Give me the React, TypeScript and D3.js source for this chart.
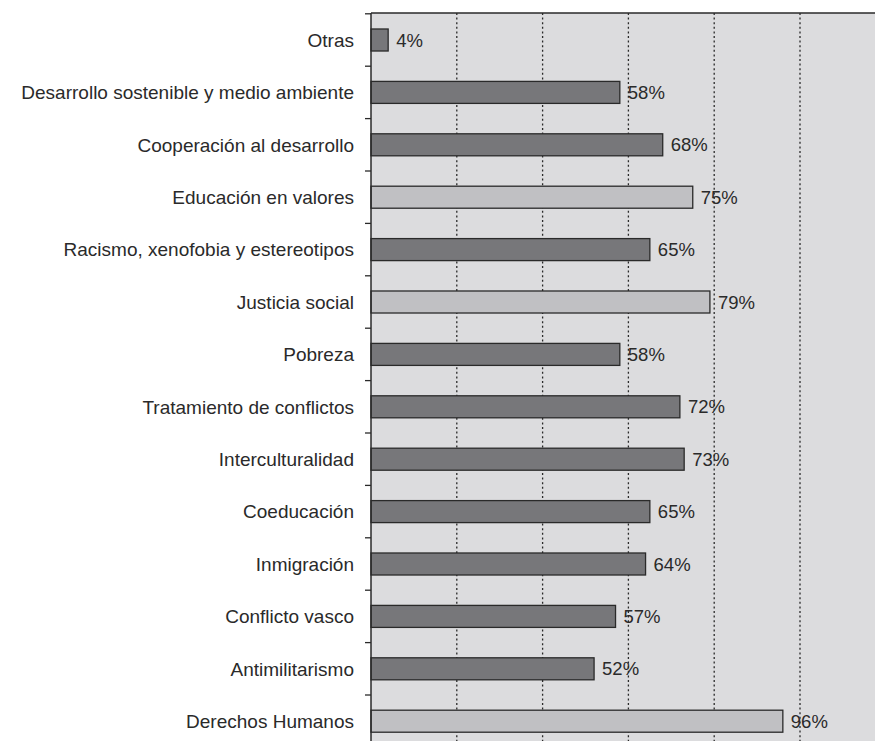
import React from "react";
import * as d3 from "d3";

const categories = [
  "Otras",
  "Desarrollo sostenible y medio ambiente",
  "Cooperación al desarrollo",
  "Educación en valores",
  "Racismo, xenofobia y estereotipos",
  "Justicia social",
  "Pobreza",
  "Tratamiento de conflictos",
  "Interculturalidad",
  "Coeducación",
  "Inmigración",
  "Conflicto vasco",
  "Antimilitarismo",
  "Derechos Humanos",
];
const values = [4, 58, 68, 75, 65, 79, 58, 72, 73, 65, 64, 57, 52, 96];
const highlighted = [false, false, false, true, false, true, false, false, false, false, false, false, false, true];
const gridTicks = [20, 40, 60, 80, 100];

const W = 875;
const H = 741;
const left = 371;
const top = 13.8;
const step = 52.4;
const font = "'Liberation Sans', Arial, Helvetica, sans-serif";

export default function App() {
  const x = d3.scaleLinear().domain([0, 100]).range([left, 800]);
  const y = d3
    .scaleBand<string>()
    .domain(categories)
    .range([top, top + step * categories.length])
    .paddingInner(0.58)
    .paddingOuter(0.29);
  const boundaries = d3.range(categories.length + 1).map((i) => top + i * y.step());

  return (
    <svg
      width={W}
      height={H}
      style={{ position: "absolute", left: 0, top: 0, background: "#fff" }}
    >
      <rect x={left} y={13} width={W - left} height={H - 13} fill="#dcdcde" />
      {gridTicks.map((t) => (
        <line
          key={t}
          x1={x(t)}
          x2={x(t)}
          y1={13}
          y2={H}
          stroke="#2a2a2a"
          strokeWidth={1.3}
          strokeDasharray="2 2.6"
        />
      ))}
      {categories.map((c, i) => (
        <g key={c}>
          <rect
            x={x(0)}
            y={y(c)}
            width={x(values[i]) - x(0)}
            height={y.bandwidth()}
            fill={highlighted[i] ? "#c0c0c3" : "#77777a"}
            stroke="#2a2a2a"
            strokeWidth={1.3}
          />
          <text
            x={x(values[i]) + 8}
            y={(y(c) as number) + y.bandwidth() / 2}
            dy="0.36em"
            fontFamily={font}
            fontSize={18.5}
            fill="#2a2a2a"
          >
            {values[i]}%
          </text>
          <text
            x={354}
            y={(y(c) as number) + y.bandwidth() / 2}
            dy="0.36em"
            textAnchor="end"
            fontFamily={font}
            fontSize={19}
            fill="#2a2a2a"
            textLength={undefined}
          >
            {c}
          </text>
        </g>
      ))}
      {boundaries.map((b, i) => (
        <line key={i} x1={365} x2={left} y1={b} y2={b} stroke="#2a2a2a" strokeWidth={1.3} />
      ))}
      <line x1={left} x2={W} y1={13} y2={13} stroke="#2a2a2a" strokeWidth={1.5} />
      <line x1={left} x2={left} y1={13} y2={H} stroke="#2a2a2a" strokeWidth={1.5} />
    </svg>
  );
}
